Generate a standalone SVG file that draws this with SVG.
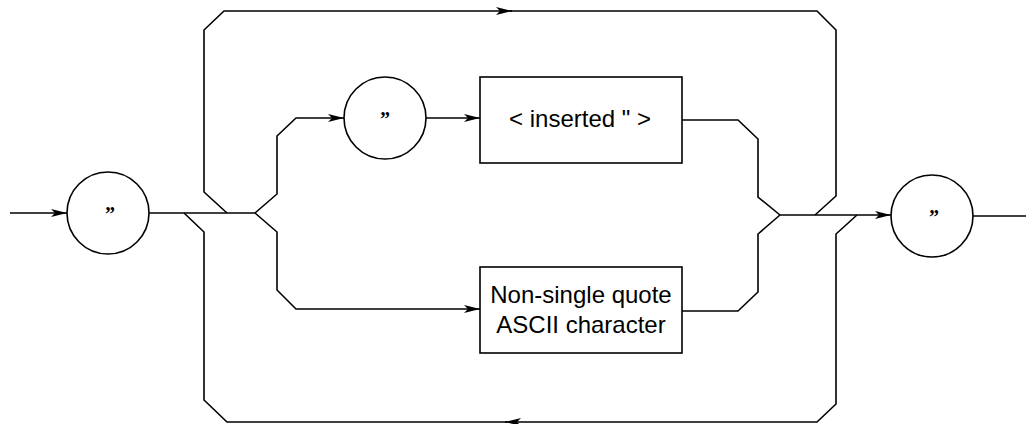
<svg xmlns="http://www.w3.org/2000/svg" width="1026" height="424" viewBox="0 0 1026 424">
<style>
.ln{fill:none;stroke:#000;stroke-width:1.6;stroke-linejoin:miter}
.nd{fill:#fff;stroke:#000;stroke-width:1.6}
.q{font-family:"Liberation Serif",serif;font-weight:bold;font-size:20px;text-anchor:middle}
.t{font-family:"Liberation Sans",Arial,sans-serif;font-size:24px;text-anchor:middle}
</style>
<defs>
<marker id="ah" markerUnits="userSpaceOnUse" markerWidth="16" markerHeight="8" refX="16" refY="4" orient="auto">
<path d="M0,0 L16,4 L0,8 L4,4 z" fill="#000"/>
</marker>
</defs>
<rect width="1026" height="424" fill="#fff"/>
<g id="connectors">
<path class="ln" d="M10,213 H67" marker-end="url(#ah)"/>
<path class="ln" d="M148,213 H255"/>
<path class="ln" d="M227,213 L204,192 V30 L224,11 H512" marker-end="url(#ah)"/>
<path class="ln" d="M510,11 H817 L836,30 V196 L815,215"/>
<path class="ln" d="M857,215 L836,234 V404 L817,422 H505" marker-end="url(#ah)"/>
<path class="ln" d="M507,422 H227 L204,400 V232 L184,213"/>
<path class="ln" d="M255,213 L277,194 V136 L296,118 H344" marker-end="url(#ah)"/>
<path class="ln" d="M425,118 H480" marker-end="url(#ah)"/>
<path class="ln" d="M255,213 L277,232 V290 L296,309 H480" marker-end="url(#ah)"/>
<path class="ln" d="M682,120 H738 L758,139 V197 L780,215"/>
<path class="ln" d="M682,311 H738 L758,292 V234 L780,215"/>
<path class="ln" d="M780,215 H891" marker-end="url(#ah)"/>
<path class="ln" d="M973,216 H1026"/>
</g>
<g id="quote-open">
<circle class="nd" cx="108" cy="213" r="41"/>
<text class="q" x="110" y="221">”</text>
</g>
<g id="quote-inner">
<circle class="nd" cx="385" cy="118" r="41"/>
<text class="q" x="385" y="126">”</text>
</g>
<g id="inserted">
<rect class="nd" x="480" y="77" width="202" height="86"/>
<text class="t" x="580" y="127">&lt; inserted " &gt;</text>
</g>
<g id="non-single-quote">
<rect class="nd" x="480" y="267" width="202" height="86"/>
<text class="t" x="581" y="303">Non-single quote</text>
<text class="t" x="581" y="333">ASCII character</text>
</g>
<g id="quote-close">
<circle class="nd" cx="932" cy="216" r="41"/>
<text class="q" x="934" y="224">”</text>
</g>
</svg>
